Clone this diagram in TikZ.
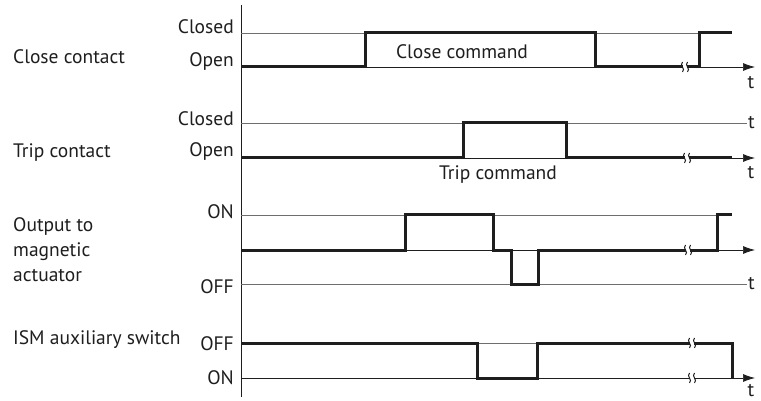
\documentclass[tikz,border=0pt]{standalone}
\usepackage{fontspec}
\setmainfont{PT Sans}
\usepackage{tikz}
\usetikzlibrary{arrows.meta}
\definecolor{sigink}{HTML}{1E1E1E}
\definecolor{gridgrey}{HTML}{6E6E6E}
\newcommand{\brk}[2]{%
  \fill[white] (#1-2,#2-3) rectangle (#1+2,#2+3);
  \draw[sigink, line width=1pt] (#1-2.5,#2-5) .. controls (#1-6,#2-1.5) and (#1+1,#2+1.5) .. (#1-2.5,#2+5);
  \draw[sigink, line width=1pt] (#1+2.5,#2-5) .. controls (#1-1,#2-1.5) and (#1+6,#2+1.5) .. (#1+2.5,#2+5);}
\begin{document}
\begin{tikzpicture}[x=1pt, y=-1pt,
        sig/.style={draw=sigink, line width=3pt, line join=miter},
        gline/.style={draw=gridgrey, line width=0.7pt},
        tarr/.style={gline, draw=sigink, -{Latex[length=12pt,width=8pt]}},
        lvl/.style={anchor=east, inner sep=0pt, font=\fontsize{19.5}{22}\selectfont, text=sigink},
        sname/.style={anchor=west, inner sep=0pt, align=left, font=\fontsize{19.5}{25}\selectfont, text=sigink},
        tlbl/.style={inner sep=0pt, font=\fontsize{19.5}{22}\selectfont, text=sigink}]
      \useasboundingbox (0,0) rectangle (761,401);
      % time axis
      \draw[sigink, line width=0.8pt] (241,5) -- (241,397);
      % signal names
      \node[sname] (ncc) at (13,57) {Close contact};
      \node[sname] (ntc) at (13,153) {Trip contact};
      \node[sname] (nout) at (13,250) {Output to\\ magnetic\\ actuator};
      \node[sname] (nism) at (13,340) {ISM auxiliary switch};
      % levels
      \node[lvl] (cchi) at (234,27) {Closed};
      \node[lvl] (cclo) at (234,62) {Open};
      \node[lvl] (tchi) at (234,119) {Closed};
      \node[lvl] (tclo) at (234,152) {Open};
      \node[lvl] (outon) at (234,212) {ON};
      \node[lvl] (outoff) at (234,287) {OFF};
      \node[lvl] (ismoff) at (234,344) {OFF};
      \node[lvl] (ismon) at (234,378) {ON};
      % close contact
      \draw[gline] (241,33) -- (699,33);
      \draw[tarr] (241,67) -- (755,67);
      \node[tlbl] (t1) at (751,83) {t};
      \draw[sig] (241,67) -- (365,67) -- (365,33) -- (595,33) -- (595,67) -- (699,67) -- (699,33) -- (732,33);
      \node[tlbl] (ccmd) at (462,52) {Close command};
      \brk{685}{67}
      % trip contact
      \draw[gline] (241,123) -- (747,123);
      \node[tlbl, anchor=west] (t2) at (748,123) {t};
      \draw[tarr] (241,158) -- (755,158);
      \node[tlbl] (t3) at (751,173) {t};
      \draw[sig] (241,158) -- (463,158) -- (463,123) -- (566,123) -- (566,158) -- (732,158);
      \node[tlbl] (tcmd) at (498,175) {Trip command};
      \brk{687}{158}
      % output to magnetic actuator
      \draw[gline] (241,215) -- (717,215);
      \draw[tarr] (241,250) -- (755,250);
      \draw[gline] (241,284) -- (747,284);
      \node[tlbl, anchor=west] (t4) at (748,284) {t};
      \draw[sig] (241,250) -- (405,250) -- (405,215) -- (493,215) -- (493,250) -- (511,250) -- (511,284) -- (538,284) -- (538,250) -- (717,250) -- (717,215) -- (732,215);
      \brk{688}{250}
      % ISM auxiliary switch
      \draw[gline] (241,343) -- (732,343);
      \draw[tarr] (241,378) -- (755,378);
      \node[tlbl] (t5) at (751,391) {t};
      \draw[sig] (241,343) -- (477,343) -- (477,378) -- (537,378) -- (537,343) -- (732,343) -- (732,378);
      \brk{692}{343}
      \brk{692}{378}
    \end{tikzpicture}
\end{document}
